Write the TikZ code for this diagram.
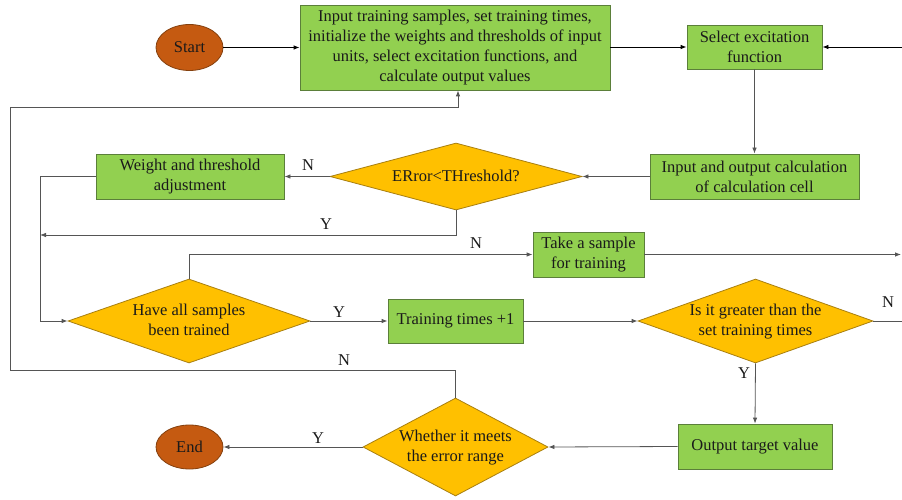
\documentclass[tikz,border=0pt]{standalone}
\usepackage{fontspec}
\setmainfont{Liberation Serif}
\usetikzlibrary{shapes.geometric,arrows.meta}
\definecolor{boxg}{HTML}{92D050}
\definecolor{boxgd}{HTML}{5B7F3A}
\definecolor{diao}{HTML}{FFC000}
\definecolor{diaod}{HTML}{A87F10}
\definecolor{ellb}{HTML}{C55A11}
\definecolor{ellbd}{HTML}{84400E}
\definecolor{lineg}{HTML}{555555}
\definecolor{txt}{HTML}{1A1A1A}
\newcommand{\dtxt}[1]{\smash{\makebox[0pt]{\raisebox{-5pt}{\begin{tabular}{@{}c@{}}#1\end{tabular}}}}}
\begin{document}
\begin{tikzpicture}[x=1pt,y=-1pt,
  every node/.style={font=\fontsize{16.5}{20}\selectfont, text=txt},
  gbox/.style={rectangle, draw=boxgd, fill=boxg, line width=0.8pt, inner sep=0pt, align=center},
  dbox/.style={diamond, draw=diaod, fill=diao, line width=0.8pt, inner sep=0pt},
  ebox/.style={ellipse, draw=ellbd, fill=ellb, line width=0.8pt, inner sep=0pt, minimum width=67pt},
  conn/.style={draw=lineg, line width=0.8pt, -{Latex[length=6pt,width=4.5pt]}},
  connb/.style={draw=black, line width=0.8pt, -{Latex[length=6pt,width=4.5pt]}},
  lab/.style={inner sep=0pt}]
\useasboundingbox (0,0) rectangle (902,500);

% nodes
\node[ebox, minimum height=46pt] (start) at (189.5,47.5) {Start};
\node[gbox, minimum width=310pt, minimum height=85pt] (input) at (455,47.5)
  {Input training samples, set training times,\\initialize the weights and thresholds of input\\units, select excitation functions, and\\calculate output values};
\node[gbox, minimum width=135pt, minimum height=44pt] (select) at (754.5,47) {Select excitation\\function};
\node[gbox, minimum width=209pt, minimum height=45pt] (calc) at (754.5,176.5) {Input and output calculation\\of calculation cell};
\node[dbox, minimum width=252pt, minimum height=67pt] (err) at (456,176.5) {\dtxt{ERror<THreshold?}};
\node[gbox, minimum width=188pt, minimum height=45pt] (weight) at (190,176.5) {Weight and threshold\\adjustment};
\node[dbox, minimum width=242pt, minimum height=84pt] (have) at (189,321) {\dtxt{Have all samples\\been trained}};
\node[gbox, minimum width=111pt, minimum height=45pt] (take) at (588.5,254.5) {Take a sample\\for training};
\node[gbox, minimum width=135pt, minimum height=44pt] (train) at (455.5,321) {Training times +1};
\node[dbox, minimum width=235pt, minimum height=84pt] (great) at (755.5,321) {\dtxt{Is it greater than the\\set training times}};
\node[gbox, minimum width=154pt, minimum height=45pt] (out) at (755,446.5) {Output target value};
\node[dbox, minimum width=185pt, minimum height=98pt] (meet) at (455.5,447) {\dtxt{Whether it meets\\the error range}};
\node[ebox, minimum height=44pt] (end) at (189.5,447) {End};

% helper coordinates
\coordinate (e1) at (902,47);
\coordinate (e2) at (901,254.5);
\coordinate (e3) at (902,321);
\coordinate (lx) at (40,0);
\coordinate (ly) at (0,235);
\coordinate (ox) at (10,370);
\coordinate (oy) at (10,107);

% connectors
\draw[connb] (start.east) -- (input.west);
\draw[connb] (input.east |- select.west) -- (select.west);
\draw[connb] (e1) -- (select.east);
\draw[conn] (select.south) -- (calc.north);
\draw[conn] (calc.west) -- (err.east);
\draw[conn] (err.west) -- (weight.east);
\draw[conn] (weight.west) -| (lx |- have.west) -- (have.west);
\draw[conn] (err.south) -- (err.south |- ly) -- (lx |- ly);
\draw[conn] (meet.north) |- (ox) -- (oy) -| ([xshift=3pt]input.south);
\draw[conn] (have.north) |- (take.west);
\draw[conn] (take.east) -- (e2);
\draw[conn] (have.east) -- (train.west);
\draw[conn] (train.east) -- (great.west);
\draw[draw=lineg, line width=0.8pt] (great.east) -- (e3);
\draw[conn] (great.south) -- (out.north);
\draw[conn] (out.west) -- (meet.east);
\draw[conn] (meet.west) -- (end.east);

% labels
\node[lab] (lN1) at (308,165) {N};
\node[lab] (lY1) at (326,224) {Y};
\node[lab] (lN2) at (476,243) {N};
\node[lab] (lY2) at (339,312) {Y};
\node[lab] (lN3) at (344,360) {N};
\node[lab] (lN4) at (888,302) {N};
\node[lab] (lY3) at (744,373) {Y};
\node[lab] (lY4) at (318,438) {Y};
\end{tikzpicture}
\end{document}
